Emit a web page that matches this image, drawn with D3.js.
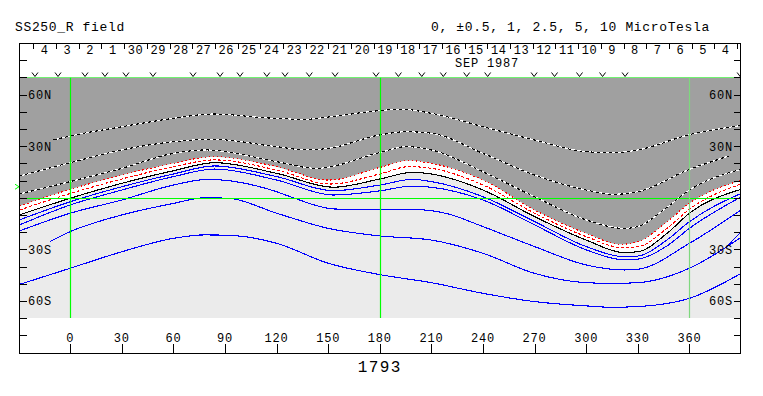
<!DOCTYPE html>
<html lang="en">
<head>
<meta charset="UTF-8" />
<title>SS250_R field</title>
<script src="https://d3js.org/d3.v7.min.js"></script>
<style>
  body { margin: 0; background: #fff; }
  svg text { font-family: "Liberation Mono", monospace; fill: #000; }
</style>
</head>
<body>
<svg id="chart" width="763" height="396"></svg>
<script>
// contour lines, [Carrington longitude, latitude]
const dashed1 = [[-9.7,33.6],[0,35.9],[30,41.3],[60,46.2],[83,48.7],[115,46.4],[136,45.6],[152,47.2],[180,50.7],[192,51.5],[210,49.1],[240,41.3],[270,33.6],[300,26.8],[316,26.2],[330,27.8],[360,36.7],[390,42.0]];
const dashed2 = [[-29.5,12.6],[0,20.4],[30,27.8],[60,32.6],[82,34.0],[120,29.7],[137,27.8],[150,28.7],[180,36.5],[195,38.4],[210,37.5],[240,25.8],[270,13.2],[300,4.5],[316,2.0],[330,3.5],[360,16.5],[383,24.3]];
const dashed3 = [[-29.5,2.2],[0,9.4],[30,17.1],[60,25.8],[79,27.8],[120,21.0],[143,17.1],[180,26.3],[195,29.7],[210,27.8],[240,15.1],[270,0.6],[300,-12.9],[322,-17.8],[330,-16.8],[345,-7.1],[360,4.5],[390,16.5]];
const redDotted = [[-29.5,-4.8],[0,4.9],[30,13.2],[60,20.0],[83,23.9],[120,18.1],[150,10.3],[180,17.6],[197,21.6],[210,20.0],[240,10.3],[270,-7.1],[300,-20.7],[320,-27.1],[330,-25.6],[347,-13.9],[360,-3.2],[390,10.1]];
const redDashed = [[-29.5,-7.1],[0,2.5],[30,10.9],[60,18.1],[84,22.0],[120,16.1],[151,8.0],[180,13.8],[197,18.1],[210,17.1],[240,7.4],[270,-9.0],[300,-22.6],[321,-29.0],[330,-28.5],[347,-17.8],[360,-6.7],[390,8.0]];
const neutral = [[-29.5,-10.0],[0,-0.3],[30,8.4],[60,15.7],[84,20.4],[120,14.2],[153,6.1],[180,10.9],[199,14.8],[210,13.8],[240,4.5],[270,-11.0],[300,-24.6],[322,-31.9],[330,-31.4],[347,-20.7],[360,-9.0],[390,4.9]];
const blue1 = [[-29.5,-12.9],[0,-2.3],[30,6.4],[60,13.8],[84,18.5],[120,12.3],[153,4.1],[180,7.4],[199,10.7],[210,9.4],[240,0.6],[270,-13.9],[300,-28.4],[322,-34.3],[330,-33.9],[347,-24.5],[360,-13.9],[390,2.5]];
const blue2 = [[-29.5,-15.8],[0,-4.2],[30,4.5],[60,12.3],[84,16.7],[120,10.3],[153,1.6],[180,4.0],[199,6.8],[210,6.1],[240,-1.3],[270,-15.8],[300,-30.3],[322,-36.1],[330,-35.7],[347,-28.0],[360,-17.8],[390,0.5]];
const blue3 = [[-29.5,-19.3],[0,-9.0],[30,-1.3],[60,7.4],[80,10.7],[120,3.5],[128,0.6],[153,-6.5],[180,-7.1],[200,-6.8],[220,-9.5],[240,-16.8],[270,-28.4],[300,-39.1],[322,-42.0],[330,-41.6],[360,-26.5],[390,-7.1]];
const blue4 = [[-12,-25.5],[0,-19.7],[30,-10.0],[60,-3.3],[78,0.0],[92,-0.3],[120,-9.0],[150,-17.8],[180,-22.2],[210,-24.6],[240,-32.3],[270,-44.0],[300,-49.4],[315,-49.8],[330,-49.4],[360,-41.0],[390,-23.0]];
const blue5 = [[-29.5,-50.4],[0,-41.0],[30,-31.4],[60,-23.6],[78,-21.6],[95,-22.0],[120,-26.5],[150,-38.1],[180,-44.7],[210,-49.4],[240,-55.6],[270,-60.4],[300,-62.9],[315,-63.7],[330,-63.3],[360,-58.5],[390,-44.0]];
const blue6 = [[381.7,-28.5],[390,-19.8]];

// header: dates (time runs right to left), observation marks
const dayLabels = ["4","3","2","1","30","29","28","27","26","25","24","23","22","21","20","19","18","17","16","15","14","13","12","11","10","9","8","7","6","5","4"];
const firstDayLon = -21.45;
const degPerDay = 360 / 27.2753;
const obsLons = [-20.5,-7.1,8.6,20.2,32.4,48.1,71.4,87.1,98.7,114.3,124.9,139.0,154.0,177.8,190.8,204.4,216.9,230.5,242.7,269.7,281.6,296.1,309.5,322.6,389.5];

const xTicks = [0,30,60,90,120,150,180,210,240,270,300,330,360];
const latTicks = [-80,-70,-60,-50,-40,-30,-20,-10,0,10,20,30,40,50,60,70,80];
const latLabels = [[60,"60N"],[30,"30N"],[-30,"30S"],[-60,"60S"]];
const greenLons = [0, 180, 360];
const greenLats = [70, 0, -70];
const earthLat = 6.4;

const svg = d3.select("#chart");
const x = d3.scaleLinear().domain([-29.5, 390]).range([19.5, 741]);
const y = d3.scaleLinear().domain([-90, 90]).range([352.5, 43]);

svg.append("defs").append("clipPath").attr("id", "plotClip")
  .append("rect")
  .attr("x", x(-29.5)).attr("y", y(70))
  .attr("width", x(390) - x(-29.5)).attr("height", y(-70) - y(70));
svg.select("defs").append("clipPath").attr("id", "frameClip")
  .append("rect").attr("x", 20).attr("y", 43).attr("width", 721).attr("height", 310);

const plot = svg.append("g").attr("clip-path", "url(#plotClip)");

plot.append("rect")
  .attr("x", x(-29.5)).attr("y", y(70))
  .attr("width", x(390) - x(-29.5)).attr("height", y(-70) - y(70))
  .attr("fill", "#a0a0a0");

const area = d3.area()
  .x(d => x(d[0])).y0(y(-70)).y1(d => y(d[1]))
  .curve(d3.curveMonotoneX);
plot.append("path").datum(redDotted).attr("d", area).attr("fill", "#ffffff");
plot.append("path").datum(neutral).attr("d", area).attr("fill", "#ebebeb");

const line = d3.line().x(d => x(d[0])).y(d => y(d[1])).curve(d3.curveMonotoneX);

function contour(data, color, dash) {
  plot.append("path").datum(data)
    .attr("d", line)
    .attr("fill", "none")
    .attr("stroke", color)
    .attr("stroke-width", 1.1)
    .attr("stroke-dasharray", dash)
    .attr("shape-rendering", "crispEdges");
}

[dashed1, dashed2, dashed3].forEach(d => {
  contour(d, "#ffffff", null);
  contour(d, "#000000", "3,3");
});
contour(redDotted, "#ff0000", "1.5,2.5");
contour(redDashed, "#ff0000", "3,2");
contour(neutral, "#000000", null);
[blue1, blue2, blue3, blue4, blue5, blue6].forEach(d => contour(d, "#0000ff", null));

// green reference lines
greenLats.forEach(l => {
  plot.append("line")
    .attr("x1", x(-29.5)).attr("x2", x(390))
    .attr("y1", Math.round(y(l)) + 0.5).attr("y2", Math.round(y(l)) + 0.5)
    .attr("stroke", "#00ff00").attr("stroke-width", 1.2);
});
greenLons.forEach(l => {
  plot.append("line")
    .attr("x1", Math.round(x(l)) + 0.5).attr("x2", Math.round(x(l)) + 0.5)
    .attr("y1", y(70)).attr("y2", y(-70))
    .attr("stroke", l === 360 ? "#7ed87e" : "#00ff00").attr("stroke-width", 1.2);
});

// frame
const frame = svg.append("g").attr("shape-rendering", "crispEdges");
frame.append("rect")
  .attr("x", 19.5).attr("y", 43.5).attr("width", 721).attr("height", 309.5)
  .attr("fill", "none").attr("stroke", "#000");

// latitude ticks both sides
latTicks.forEach(l => {
  const ty = Math.round(y(l)) + 0.5;
  frame.append("line").attr("x1", 20).attr("x2", 27).attr("y1", ty).attr("y2", ty).attr("stroke", "#000");
  frame.append("line").attr("x1", 734).attr("x2", 741).attr("y1", ty).attr("y2", ty).attr("stroke", "#000");
});
latLabels.forEach(([l, t]) => {
  svg.append("text").attr("x", 28).attr("y", y(l) + 4.5)
    .attr("font-size", 12).attr("letter-spacing", 0.8).text(t);
  svg.append("text").attr("x", 733).attr("y", y(l) + 4.5)
    .attr("text-anchor", "end")
    .attr("font-size", 12).attr("letter-spacing", 0.8).text(t);
});

// longitude ticks at bottom
xTicks.forEach(l => {
  const tx = Math.round(x(l)) + 0.5;
  frame.append("line").attr("x1", tx).attr("x2", tx).attr("y1", 344).attr("y2", 353).attr("stroke", "#000");
  svg.append("text").attr("x", x(l)).attr("y", 341.5)
    .attr("text-anchor", "middle")
    .attr("font-size", 12).attr("letter-spacing", 0.8).text(l);
});

// day boundaries and labels
const header = svg.append("g").attr("clip-path", "url(#frameClip)");
for (let i = 0; i <= dayLabels.length; i++) {
  const bx = Math.round(x(firstDayLon + i * degPerDay)) + 0.5;
  header.append("line").attr("x1", bx).attr("x2", bx).attr("y1", 43).attr("y2", 49)
    .attr("stroke", "#000").attr("shape-rendering", "crispEdges");
}
dayLabels.forEach((t, i) => {
  header.append("text")
    .attr("x", x(firstDayLon + (i + 0.5) * degPerDay))
    .attr("y", 53.5)
    .attr("text-anchor", "middle")
    .attr("font-size", 12).attr("letter-spacing", 0.5).text(t);
});
header.append("text").attr("x", 455).attr("y", 66.5)
  .attr("font-size", 12).attr("letter-spacing", 0.8).text("SEP 1987");

header.selectAll(".obs").data(obsLons).enter().append("path")
  .attr("class", "obs")
  .attr("d", d => `M${x(d) - 3},72.5L${x(d)},76.5L${x(d) + 3},72.5`)
  .attr("fill", "none").attr("stroke", "#000").attr("stroke-width", 1);

// earth latitude marker
svg.append("path")
  .attr("d", `M15,${y(earthLat) - 2.5}L19,${y(earthLat)}L15,${y(earthLat) + 2.5}`)
  .attr("fill", "none").attr("stroke", "#00ff00").attr("stroke-width", 1);

// titles
svg.append("text").attr("x", 15).attr("y", 31)
  .attr("font-size", 13).attr("letter-spacing", 0.65).text("SS250_R field");
svg.append("text").attr("x", 431).attr("y", 31)
  .attr("font-size", 13).attr("letter-spacing", 0.65).text("0, ±0.5, 1, 2.5, 5, 10 MicroTesla");
svg.append("text").attr("x", x(180)).attr("y", 372)
  .attr("text-anchor", "middle")
  .attr("font-size", 16).attr("letter-spacing", 1.4).text("1793");
</script>
</body>
</html>
